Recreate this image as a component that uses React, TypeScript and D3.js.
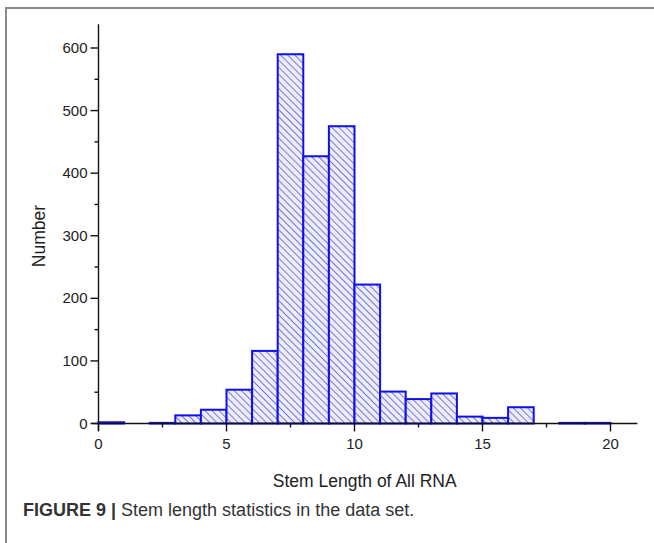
import { useEffect, useRef } from 'react';
import * as d3 from 'd3';

// histogram of stem lengths, bin width 1
const binStarts = [0, 1, 2, 3, 4, 5, 6, 7, 8, 9, 10, 11, 12, 13, 14, 15, 16, 17, 18, 19];
const counts = [2, 0, 1, 13, 22, 54, 116, 590, 427, 475, 222, 51, 39, 48, 11, 9, 26, 0, 1, 1];
const xTicks = [0, 5, 10, 15, 20];
const xMinorTicks = [2.5, 7.5, 12.5, 17.5];
const yTicks = [0, 100, 200, 300, 400, 500, 600];
const yMinorTicks = [50, 150, 250, 350, 450, 550];

const W = 654;
const H = 543;

const App = () => {
  const svgRef = useRef<SVGSVGElement | null>(null);

  useEffect(() => {
    if (!svgRef.current) return;
    const svg = d3.select(svgRef.current);
    svg.selectAll('*').remove();

    const x = d3.scaleLinear().domain([0, 20]).range([98.5, 610.5]);
    const y = d3.scaleLinear().domain([0, 600]).range([423.5, 48]);

    const defs = svg.append('defs');
    const pat = defs.append('pattern')
      .attr('id', 'hatch')
      .attr('patternUnits', 'userSpaceOnUse')
      .attr('width', 5)
      .attr('height', 5)
      .attr('patternTransform', 'rotate(45)');
    pat.append('rect').attr('width', 5).attr('height', 5).attr('fill', '#ececfb');
    pat.append('line')
      .attr('x1', 0).attr('y1', 0).attr('x2', 5).attr('y2', 0)
      .attr('stroke', '#4646cc')
      .attr('stroke-width', 1.4);

    // figure frame
    svg.append('path')
      .attr('d', `M6,${H} V8 H${W}`)
      .attr('fill', 'none')
      .attr('stroke', '#8a8a8a')
      .attr('stroke-width', 2);

    const data = binStarts.map((b, i) => ({ b, c: counts[i] }));

    svg.append('g')
      .selectAll('rect')
      .data(data.filter(d => d.c > 0))
      .join('rect')
      .attr('x', d => x(d.b))
      .attr('y', d => y(d.c))
      .attr('width', d => x(d.b + 1) - x(d.b))
      .attr('height', d => y(0) - y(d.c))
      .attr('fill', 'url(#hatch)')
      .attr('stroke', '#1010ea')
      .attr('stroke-width', 2);

    // axes
    const ax = svg.append('g').attr('stroke', '#111').attr('stroke-width', 1.4);
    ax.append('line')
      .attr('x1', x(-0.25)).attr('x2', x(21.05))
      .attr('y1', y(0)).attr('y2', y(0));
    ax.append('line')
      .attr('x1', x(0)).attr('x2', x(0))
      .attr('y1', y(-11)).attr('y2', y(638));

    ax.selectAll('.xt')
      .data(xTicks)
      .join('line')
      .attr('class', 'xt')
      .attr('x1', d => x(d)).attr('x2', d => x(d))
      .attr('y1', y(0)).attr('y2', y(0) + 8);
    ax.selectAll('.xm')
      .data(xMinorTicks)
      .join('line')
      .attr('class', 'xm')
      .attr('x1', d => x(d)).attr('x2', d => x(d))
      .attr('y1', y(0)).attr('y2', y(0) + 4);
    ax.selectAll('.yt')
      .data(yTicks)
      .join('line')
      .attr('class', 'yt')
      .attr('x1', x(0) - 8).attr('x2', x(0))
      .attr('y1', d => y(d)).attr('y2', d => y(d));
    ax.selectAll('.ym')
      .data(yMinorTicks)
      .join('line')
      .attr('class', 'ym')
      .attr('x1', x(0) - 4).attr('x2', x(0))
      .attr('y1', d => y(d)).attr('y2', d => y(d));

    const font = '"Liberation Sans", Arial, sans-serif';

    svg.append('g')
      .selectAll('text')
      .data(xTicks)
      .join('text')
      .attr('x', d => x(d))
      .attr('y', y(0) + 25)
      .attr('text-anchor', 'middle')
      .style('font-family', font)
      .style('font-size', '15px')
      .style('fill', '#222')
      .text(d => d);

    svg.append('g')
      .selectAll('text')
      .data(yTicks)
      .join('text')
      .attr('x', x(0) - 11)
      .attr('y', d => y(d) + 5)
      .attr('text-anchor', 'end')
      .style('font-family', font)
      .style('font-size', '15px')
      .style('fill', '#222')
      .text(d => d);

    svg.append('text')
      .attr('x', x(10.4))
      .attr('y', 487)
      .attr('text-anchor', 'middle')
      .style('font-family', font)
      .style('font-size', '17.5px')
      .style('fill', '#222')
      .text('Stem Length of All RNA');

    svg.append('text')
      .attr('transform', 'rotate(-90)')
      .attr('x', -236)
      .attr('y', 45)
      .attr('text-anchor', 'middle')
      .style('font-family', font)
      .style('font-size', '17.5px')
      .style('fill', '#222')
      .text('Number');

    const cap = svg.append('text')
      .attr('x', 23)
      .attr('y', 516)
      .style('font-family', font)
      .style('font-size', '18px')
      .style('fill', '#333');
    cap.append('tspan').style('font-weight', 'bold').text('FIGURE 9 | ');
    cap.append('tspan').text('Stem length statistics in the data set.');
  }, []);

  return (
    <div style={{ width: W, height: H }}>
      <style>{'body{margin:0;background:#fff}'}</style>
      <svg ref={svgRef} width={W} height={H} style={{ display: 'block' }} />
    </div>
  );
};

export default App;
